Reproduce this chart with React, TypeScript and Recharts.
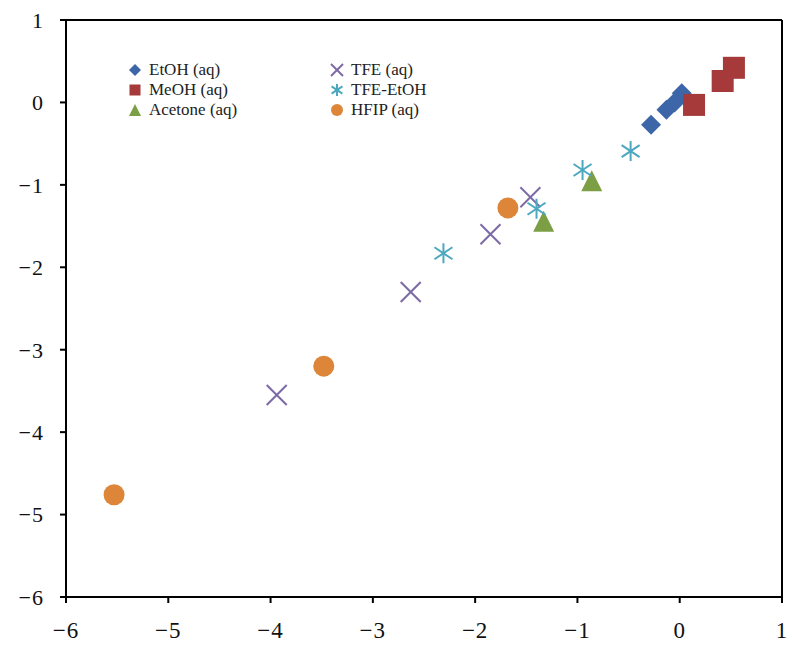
import React from 'react';
import { ScatterChart, Scatter, XAxis, YAxis, ReferenceLine, Legend } from 'recharts';

const ETOH_X = [-0.28, -0.13, -0.05, 0.02];
const ETOH_Y = [-0.27, -0.09, 0.0, 0.11];
const MEOH_X = [0.14, 0.42, 0.53];
const MEOH_Y = [-0.03, 0.26, 0.42];
const ACETONE_X = [-0.86, -1.33];
const ACETONE_Y = [-0.95, -1.44];
const TFE_X = [-1.46, -1.85, -2.63, -3.94];
const TFE_Y = [-1.15, -1.6, -2.3, -3.55];
const TFEETOH_X = [-0.48, -0.95, -1.4, -2.31];
const TFEETOH_Y = [-0.59, -0.82, -1.29, -1.83];
const HFIP_X = [-1.68, -3.48, -5.53];
const HFIP_Y = [-1.28, -3.2, -4.76];

const TICKS = [-6, -5, -4, -3, -2, -1, 0, 1];
const SERIES_NAMES = ['EtOH (aq)', 'MeOH (aq)', 'Acetone (aq)', 'TFE (aq)', 'TFE-EtOH', 'HFIP (aq)'];
const COLORS = ['#3D66A8', '#A63A3A', '#7C9E45', '#7C6AA6', '#4BA8BE', '#DD8538'];
const KINDS = ['diamond', 'square', 'triangle', 'cross', 'asterisk', 'circle'];

const toPoints = (xs: number[], ys: number[]) => xs.map((x, i) => ({ x, y: ys[i] }));

function drawMarker(kind: string, cx: number, cy: number, s: number, color: string) {
  const h = s / 2;
  switch (kind) {
    case 'diamond':
      return <polygon points={`${cx},${cy - h} ${cx + h},${cy} ${cx},${cy + h} ${cx - h},${cy}`} fill={color} />;
    case 'square':
      return <rect x={cx - h} y={cy - h} width={s} height={s} fill={color} />;
    case 'triangle':
      return <polygon points={`${cx},${cy - h} ${cx + h},${cy + h} ${cx - h},${cy + h}`} fill={color} />;
    case 'cross':
      return (
        <g stroke={color} strokeWidth={2}>
          <line x1={cx - h} y1={cy - h} x2={cx + h} y2={cy + h} />
          <line x1={cx - h} y1={cy + h} x2={cx + h} y2={cy - h} />
        </g>
      );
    case 'asterisk':
      return (
        <g stroke={color} strokeWidth={2}>
          <line x1={cx} y1={cy - h} x2={cx} y2={cy + h} />
          <line x1={cx - h * 0.9} y1={cy - h * 0.6} x2={cx + h * 0.9} y2={cy + h * 0.6} />
          <line x1={cx - h * 0.9} y1={cy + h * 0.6} x2={cx + h * 0.9} y2={cy - h * 0.6} />
        </g>
      );
    default:
      return <circle cx={cx} cy={cy} r={h} fill={color} />;
  }
}

const makeShape = (kind: string, size: number, color: string) => (props: any) => {
  const { cx, cy } = props;
  if (cx == null || cy == null) return <g />;
  return drawMarker(kind, cx, cy, size, color);
};

const fmt = (v: number) => (v < 0 ? '\u2212' + Math.abs(v) : String(v));

const LegendBox = () => (
  <div
    style={{
      display: 'grid',
      gridAutoFlow: 'column',
      gridTemplateRows: 'repeat(3, 20px)',
      gridTemplateColumns: '202px 200px',
      fontFamily: '"Liberation Serif", serif',
      fontSize: 17,
      color: '#222',
      lineHeight: '20px',
    }}
  >
    {SERIES_NAMES.map((name, i) => (
      <div key={name} style={{ display: 'flex', alignItems: 'center', height: 20 }}>
        <svg width={16} height={16} style={{ marginRight: 6, flex: 'none' }}>
          {drawMarker(KINDS[i], 8, 8, KINDS[i] === 'square' ? 11 : 12, COLORS[i])}
        </svg>
        <span>{name}</span>
      </div>
    ))}
  </div>
);

const DATA = [
  toPoints(ETOH_X, ETOH_Y),
  toPoints(MEOH_X, MEOH_Y),
  toPoints(ACETONE_X, ACETONE_Y),
  toPoints(TFE_X, TFE_Y),
  toPoints(TFEETOH_X, TFEETOH_Y),
  toPoints(HFIP_X, HFIP_Y),
];
const SIZES = [20, 22, 21, 20, 20, 21];

export default function App() {
  const xTickStyle = { fontFamily: '"Liberation Serif", serif', fontSize: 23, fill: '#111', letterSpacing: 1 };
  const yTickStyle = { fontFamily: '"Liberation Serif", serif', fontSize: 22, fill: '#111', letterSpacing: 1 };
  return (
    <div style={{ position: 'absolute', left: 0, top: 0, width: 800, height: 654, background: '#fff' }}>
      <ScatterChart width={800} height={654} margin={{ top: 20, right: 18, bottom: 0, left: 6 }}>
        <XAxis
          type="number"
          dataKey="x"
          domain={[-6, 1]}
          ticks={TICKS}
          tickFormatter={fmt}
          height={57}
          tickSize={6}
          tickMargin={19}
          axisLine={{ stroke: '#000', strokeWidth: 2 }}
          tickLine={{ stroke: '#000', strokeWidth: 2 }}
          tick={xTickStyle}
          interval={0}
        />
        <YAxis
          type="number"
          dataKey="y"
          domain={[-6, 1]}
          ticks={TICKS}
          tickFormatter={fmt}
          width={60}
          tickSize={6}
          tickMargin={16}
          axisLine={{ stroke: '#000', strokeWidth: 2 }}
          tickLine={{ stroke: '#000', strokeWidth: 2 }}
          tick={yTickStyle}
          interval={0}
        />
        <ReferenceLine y={1} stroke="#000" strokeWidth={2} />
        <ReferenceLine x={1} stroke="#000" strokeWidth={2} />
        {DATA.map((d, i) => (
          <Scatter
            key={SERIES_NAMES[i]}
            name={SERIES_NAMES[i]}
            data={d}
            fill={COLORS[i]}
            isAnimationActive={false}
            shape={makeShape(KINDS[i], SIZES[i], COLORS[i])}
          />
        ))}
        <Legend
          layout="vertical"
          align="center"
          verticalAlign="middle"
          wrapperStyle={{ position: 'absolute', left: 127, top: 60, width: 420, height: 62 }}
          content={() => <LegendBox />}
        />
      </ScatterChart>
    </div>
  );
}
